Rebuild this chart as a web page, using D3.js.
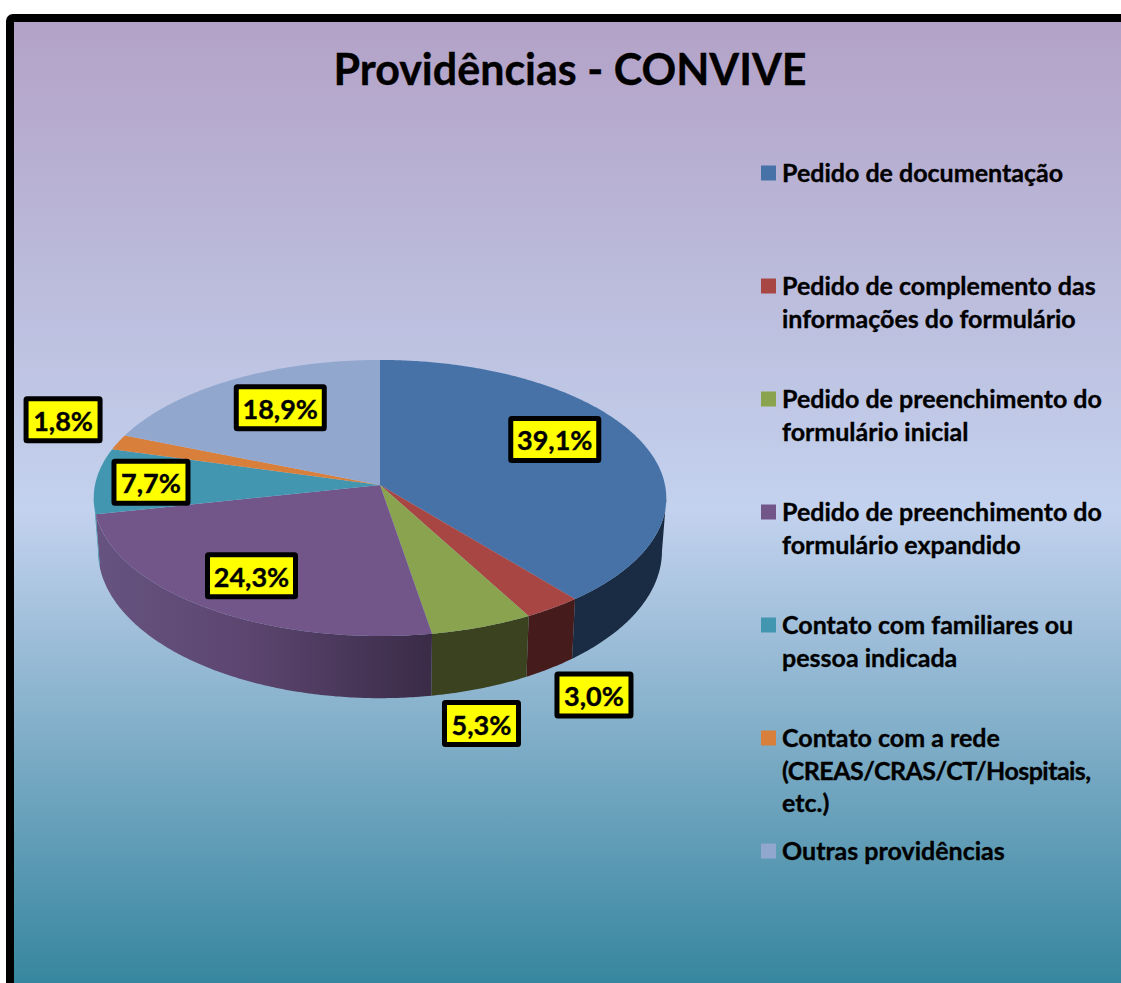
<!DOCTYPE html>
<html>
<head>
<meta charset="utf-8">
<title>Providências - CONVIVE</title>
<script src="https://cdn.jsdelivr.net/npm/d3@7"></script>
<style>
  body { margin: 0; background: #fff; }
  svg { display: block; }
  text { font-family: Lato, "Open Sans", sans-serif; font-weight: 700; fill: #000; stroke: #000; stroke-width: 0.35px; }
</style>
</head>
<body>
<svg width="1121" height="983"></svg>
<script>
var categories = [
  ['Pedido de documentação'],
  ['Pedido de complemento das', 'informações do formulário'],
  ['Pedido de preenchimento do', 'formulário inicial'],
  ['Pedido de preenchimento do', 'formulário expandido'],
  ['Contato com familiares ou', 'pessoa indicada'],
  ['Contato com a rede', '(CREAS/CRAS/CT/Hospitais,', 'etc.)'],
  ['Outras providências']
];
var values = [39.1, 3.0, 5.3, 24.3, 7.7, 1.8, 18.9];
var topColors = ['#4672a8', '#a84643', '#89a34e', '#72568a', '#4296af', '#d8803b', '#92a7ce'];
var wallColors = ['#1a2c44', '#451c1b', '#3b4220', 'url(#purpleWall)', '#4296af', '#8a4f22', '#5c6c88'];
// how far each yellow box sits from its slice's reference point
var labelNudge = [[-9, -14], [96, 126], [32, 142], [-10, 7], [-30, 0], [-132, -35], [6, -2]];

var svg = d3.select('svg');
var defs = svg.append('defs');

var bg = defs.append('linearGradient').attr('id', 'bg')
  .attr('gradientUnits', 'userSpaceOnUse')
  .attr('x1', 0).attr('y1', 22).attr('x2', 0).attr('y2', 983);
[[0, '#b3a2c7'], [0.508, '#c3d2ee'], [1, '#37869f']].forEach(function(s) {
  bg.append('stop').attr('offset', s[0]).attr('stop-color', s[1]);
});

var wall = defs.append('linearGradient').attr('id', 'purpleWall')
  .attr('x1', 0).attr('y1', 0).attr('x2', 1).attr('y2', 0);
[[0, '#675380'], [0.45, '#5c4670'], [1, '#3a2b47']].forEach(function(s) {
  wall.append('stop').attr('offset', s[0]).attr('stop-color', s[1]);
});

// frame and background, right and bottom edges run off the picture
svg.append('rect')
  .attr('x', 10).attr('y', 18)
  .attr('width', 1300).attr('height', 1200)
  .attr('rx', 3)
  .style('fill', 'url(#bg)')
  .style('stroke', '#000')
  .style('stroke-width', 8);

// title
svg.append('text')
  .attr('x', 570).attr('y', 85)
  .attr('text-anchor', 'middle')
  .style('font-size', '43px')
  .text('Providências - CONVIVE');

// the pie lies flat and is seen in perspective
var cx = 380, cy = 485, radiusX = 285, radiusY = 136.8, tilt = 0.0942;
var bottomCy = 537, bottomY = 146, bottomX = 0.985;

function project(angle, r, level) {
  var u = r * Math.sin(angle), v = -r * Math.cos(angle);
  var s = 1 / (1 - tilt * v);
  if (level === 'bottom') {
    return [cx + radiusX * bottomX * u * s, bottomCy + bottomY * v * s];
  }
  return [cx + radiusX * u * s, cy + radiusY * v * s];
}

var arcs = d3.pie().sort(null).value(function(d) { return d; })(values);
var line = d3.line();

function sweep(a0, a1) {
  var n = Math.max(2, Math.ceil((a1 - a0) / 0.01));
  return d3.range(n + 1).map(function(i) { return a0 + (a1 - a0) * i / n; });
}

// side walls run between the two widest points of the projected circle
var wallFrom = Math.acos(-tilt), wallTo = 2 * Math.PI - wallFrom;
svg.append('g').selectAll('path')
  .data(arcs.filter(function(d) { return d.startAngle < wallTo && d.endAngle > wallFrom; }))
  .enter().append('path')
  .attr('d', function(d) {
    var angles = sweep(Math.max(d.startAngle, wallFrom), Math.min(d.endAngle, wallTo));
    var top = angles.map(function(a) { return project(a, 1); });
    var bottom = angles.slice().reverse().map(function(a) { return project(a, 1, 'bottom'); });
    return line(top.concat(bottom)) + 'Z';
  })
  .style('fill', function(d) { return wallColors[d.index]; });

// top faces
svg.append('g').selectAll('path')
  .data(arcs)
  .enter().append('path')
  .attr('d', function(d) {
    var pts = sweep(d.startAngle, d.endAngle).map(function(a) { return project(a, 1); });
    return line([[cx, cy]].concat(pts)) + 'Z';
  })
  .style('fill', function(d) { return topColors[d.index]; });

// value labels
var fmt = d3.formatLocale({ decimal: ',', thousands: '.', grouping: [3], currency: ['R$', ''] }).format('.1f');
var labels = svg.append('g').selectAll('g')
  .data(arcs)
  .enter().append('g')
  .attr('transform', function(d) {
    var p = project((d.startAngle + d.endAngle) / 2, 0.7);
    var n = labelNudge[d.index];
    return 'translate(' + (p[0] + n[0]) + ',' + (p[1] + n[1]) + ')';
  });

labels.append('text')
  .attr('text-anchor', 'middle')
  .attr('y', 11)
  .style('font-size', '27px')
  .text(function(d) { return fmt(d.data) + '%'; });

labels.insert('rect', 'text')
  .attr('x', function(d) { return d.data >= 10 ? -44 : -37; })
  .attr('width', function(d) { return d.data >= 10 ? 88 : 74; })
  .attr('y', -21).attr('height', 42)
  .style('fill', '#ffff00')
  .style('stroke', '#000')
  .style('stroke-width', 5)
  .attr('rx', 1);

// legend
var legendY = d3.scalePoint().domain(d3.range(categories.length)).range([173, 851]);
var legend = svg.append('g').selectAll('g')
  .data(categories)
  .enter().append('g')
  .attr('transform', function(d, i) { return 'translate(761,' + legendY(i) + ')'; });

legend.append('rect')
  .attr('y', -7.5)
  .attr('width', 15).attr('height', 15)
  .style('fill', function(d, i) { return topColors[i]; });

legend.selectAll('text')
  .data(function(d) { return d; })
  .enter().append('text')
  .attr('x', 21)
  .attr('y', function(d, i) { return 9 + i * 32.7; })
  .style('font-size', '25px')
  .style('letter-spacing', function(d) { return d.charAt(0) === '(' ? '-0.55px' : null; })
  .text(function(d) { return d; });
</script>
</body>
</html>
